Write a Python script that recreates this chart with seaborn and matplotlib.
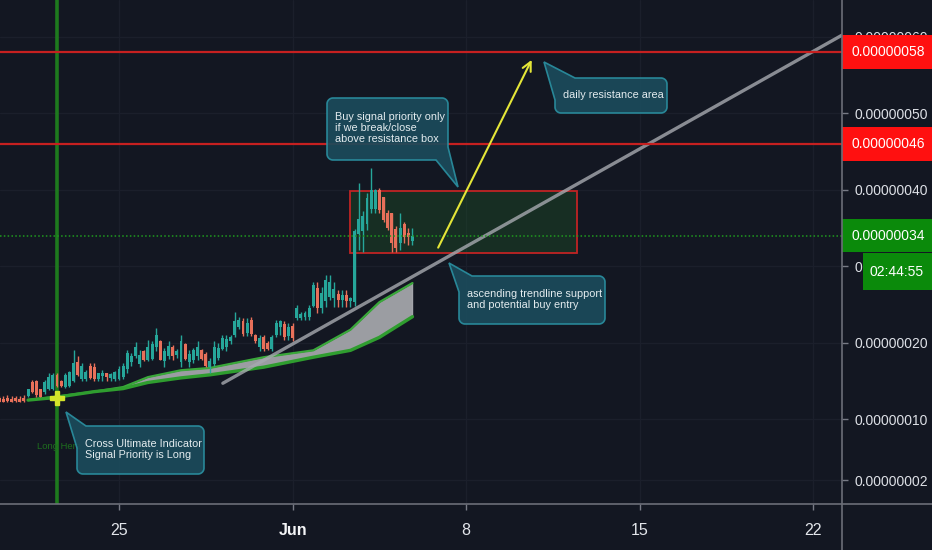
import numpy as np
import pandas as pd
import seaborn as sns
import matplotlib.pyplot as plt
import matplotlib.dates as mdates
import matplotlib.transforms as mtrans
from matplotlib.patches import Polygon, Rectangle
from matplotlib.lines import Line2D

# 4h candles, prices in units of 1e-8
candle_start = '2020-05-20 04:00'
opens = [12.8, 12.7, 12.8, 12.7, 12.8, 12.7, 12.8, 13.0, 14.8, 15.0,
         13.9, 13.5, 14.0, 14.0, 15.8, 15.0, 14.2, 14.3, 15.0, 17.5,
         15.2, 15.2, 17.0, 16.8, 15.2, 15.6, 16.0, 15.4, 15.3, 15.3,
         15.5, 16.5, 17.5, 18.2, 17.2, 18.9, 17.8, 17.9, 19.4, 20.2,
         17.6, 18.2, 19.5, 18.4, 17.5, 19.8, 17.5, 17.8, 18.2, 19.0,
         18.5, 16.8, 17.2, 18.0, 19.2, 19.5, 20.2, 21.0, 22.0, 22.8,
         21.3, 23.0, 21.0, 19.5, 20.8, 20.0, 19.2, 21.0, 22.0, 22.4,
         20.9, 22.2, 23.2, 23.2, 23.3, 23.3, 24.8, 27.2, 24.5, 25.5,
         26.0, 25.8, 26.4, 25.6, 26.2, 25.5, 25.3, 34.2, 34.6, 35.5,
         37.5, 37.5, 40.0, 39.0, 37.0, 37.0, 34.8, 33.0, 35.5, 34.3,
         33.3]
highs = [13.0, 13.0, 13.1, 13.0, 13.0, 13.0, 13.1, 14.0, 15.1, 15.1,
         14.0, 15.1, 16.0, 16.0, 16.0, 15.1, 16.0, 16.3, 19.0, 18.2,
         17.3, 16.4, 17.3, 17.3, 16.1, 16.4, 16.1, 16.0, 16.3, 17.0,
         17.3, 19.0, 18.7, 20.1, 19.0, 19.0, 20.4, 20.2, 21.9, 20.3,
         19.3, 20.2, 19.7, 19.2, 21.0, 20.0, 19.0, 19.3, 20.2, 19.2,
         18.8, 18.0, 20.2, 20.0, 21.0, 21.0, 21.0, 24.0, 23.4, 23.2,
         23.2, 23.4, 21.2, 21.0, 21.0, 20.2, 21.0, 23.0, 23.0, 22.8,
         22.6, 22.6, 24.9, 24.0, 24.1, 24.9, 28.0, 27.9, 27.3, 28.9,
         28.9, 28.0, 26.9, 26.9, 26.9, 26.0, 34.8, 40.9, 37.2, 39.6,
         42.8, 40.1, 40.2, 39.1, 37.3, 37.0, 35.3, 37.0, 35.8, 35.0,
         35.0]
lows = [12.2, 12.2, 12.2, 12.3, 12.2, 12.2, 12.3, 12.9, 13.4, 12.9,
        12.9, 13.3, 13.8, 13.8, 14.2, 14.2, 14.1, 14.2, 14.9, 15.6,
        15.0, 15.0, 15.2, 15.0, 15.0, 15.0, 15.0, 15.0, 15.0, 15.1,
        15.3, 16.0, 16.9, 18.0, 16.8, 17.6, 17.6, 17.7, 18.9, 17.7,
        16.8, 17.9, 17.7, 18.0, 16.8, 17.7, 16.8, 17.3, 17.7, 17.7,
        16.8, 16.0, 17.0, 17.7, 19.0, 18.9, 19.8, 20.8, 21.8, 20.9,
        20.9, 20.9, 20.0, 18.9, 18.9, 19.0, 18.9, 20.8, 21.0, 20.3,
        20.3, 20.2, 23.0, 23.0, 23.0, 23.0, 24.7, 23.9, 23.9, 24.7,
        25.6, 24.7, 24.7, 24.7, 24.7, 24.7, 24.8, 32.1, 31.9, 34.7,
        37.0, 37.0, 37.0, 35.8, 34.7, 31.9, 31.9, 32.1, 33.0, 32.8,
        32.8]
closes = [12.3, 12.3, 12.4, 12.3, 12.4, 12.3, 12.4, 13.9, 13.6, 13.2,
          12.9, 14.8, 15.5, 15.8, 14.3, 14.3, 15.8, 16.2, 17.4, 15.8,
          17.0, 16.2, 15.4, 15.2, 16.0, 16.0, 15.5, 15.9, 16.2, 16.5,
          17.0, 18.6, 18.3, 19.5, 18.4, 17.8, 19.5, 19.8, 21.0, 17.8,
          18.9, 19.6, 18.3, 18.9, 20.2, 17.9, 18.5, 19.0, 19.5, 17.9,
          16.9, 17.6, 19.5, 19.3, 20.6, 20.5, 20.8, 22.8, 23.0, 21.2,
          22.6, 21.2, 20.2, 20.6, 19.2, 19.2, 20.8, 22.6, 22.8, 20.8,
          22.0, 20.6, 24.5, 23.8, 23.9, 24.6, 27.5, 24.5, 26.5, 28.2,
          28.0, 27.0, 25.6, 26.3, 25.5, 25.9, 34.6, 36.2, 36.5, 38.9,
          40.0, 40.0, 37.3, 36.0, 35.0, 33.0, 32.4, 35.0, 33.8, 33.8,
          34.0]

# moving average cloud, read at candle indices
cloud_idx = [7, 13, 23, 30, 36, 44, 51, 64, 76, 85, 92, 100]
cloud_low = [12.5, 12.8, 13.6, 14.0, 14.8, 15.4, 15.8, 16.8, 18.1, 19.0, 20.7, 23.4]
cloud_high = [12.5, 12.9, 13.6, 14.2, 15.5, 16.4, 16.7, 18.1, 19.0, 21.7, 25.3, 27.8]

trend_dates = ['2020-05-29 04:30', '2020-06-23 03:40']
trend_vals = [14.7, 60.2]
arrow_dates = ['2020-06-06 19:40', '2020-06-10 16:35']
arrow_vals = [32.1, 57.3]
box_dates = ['2020-06-03 07:30', '2020-06-12 11:15']
box_vals = [31.7, 39.8]
resistance = [58, 46]
last_price = 34
signal_date = '2020-05-22 12:00'
signal_val = 12.8

ytick_vals = [60, 50, 40, 30, 20, 10, 2]
xtick_dates = ['2020-05-25', '2020-06-01', '2020-06-08', '2020-06-15', '2020-06-22']
xtick_labels = ['25', 'Jun', '8', '15', '22']

BG = '#131722'
UP = '#26a69a'
DOWN = '#e8705a'
BOX_FC = '#1b4b5b'
BOX_EC = '#2a8fa0'

sns.set_theme(style='dark', rc={'axes.facecolor': BG, 'figure.facecolor': BG})
plt.rcParams['font.family'] = ['Liberation Sans', 'DejaVu Sans']

fig = plt.figure(figsize=(9.32, 5.5), dpi=100)
ax = fig.add_axes([0, 46 / 550, 842 / 932, 504 / 550])
W, H = 842, 504

t = mdates.date2num(pd.date_range(candle_start, periods=len(opens), freq='4h'))
o = np.array(opens)
c = np.array(closes)
up = c >= o
cols = np.where(up, UP, DOWN)

# reference lines
for r in resistance:
    ax.axhline(r, color='#c62020', lw=1.6, zorder=4)
ax.axhline(last_price, color='#1f9a1f', lw=1.1, ls=(0, (1, 1.5)), zorder=4)
sig_t = mdates.date2num(pd.Timestamp(signal_date))
ax.axvline(sig_t, color='#1e7a1e', lw=2.6, zorder=1.5)

# resistance box
bt = mdates.date2num(pd.to_datetime(box_dates))
ax.add_patch(Rectangle((bt[0], box_vals[0]), bt[1] - bt[0], box_vals[1] - box_vals[0],
                       fc=(0.12, 0.35, 0.15, 0.35), ec='#c02424', lw=1.3, zorder=2))

# cloud
ct = t[cloud_idx]
ax.fill_between(ct, cloud_low, cloud_high, color='#a3a5aa', alpha=0.95, lw=0, zorder=2.2)
ax.plot([ct[-1], ct[-1]], [cloud_low[-1], cloud_high[-1]], color='#a3a5aa', lw=1, zorder=2.2)
sns.lineplot(x=ct, y=cloud_high, ax=ax, color='#3aa83a', lw=1.6, zorder=2.4)
sns.lineplot(x=ct, y=cloud_low, ax=ax, color='#2f9d2f', lw=2.4, zorder=2.4)

# candles
ax.vlines(t, lows, highs, colors=cols, lw=1, zorder=3)
body_lo = np.minimum(o, c)
body_h = np.maximum(np.abs(c - o), 0.2)
ax.bar(t, body_h, bottom=body_lo, width=0.12, color=cols, lw=0, zorder=3.1)

# trendline and arrow
tt = mdates.date2num(pd.to_datetime(trend_dates))
sns.lineplot(x=tt, y=trend_vals, ax=ax, color='#a7aab0', lw=2.4, alpha=0.8, zorder=3.5)
at = mdates.date2num(pd.to_datetime(arrow_dates))
ax.annotate('', xy=(at[1], arrow_vals[1]), xytext=(at[0], arrow_vals[0]),
            arrowprops=dict(arrowstyle='->', color='#e4e638', lw=1.5, mutation_scale=16),
            zorder=5)

ax.plot([sig_t], [signal_val], marker='P', ms=10, color='#d4e42a', mec='#d4e42a', zorder=6)
ax.text(sig_t - 0.8, 6.4, 'Long Here', color='#1e6e1e', fontsize=6.8, va='center', zorder=4)


def rounded_rect(x0, y0, x1, y1, r=6, step=0.5):
    pts = []

    def seg(a, b):
        n = max(int(np.hypot(b[0] - a[0], b[1] - a[1]) / step), 2)
        for s in np.linspace(0, 1, n, endpoint=False):
            pts.append((a[0] + (b[0] - a[0]) * s, a[1] + (b[1] - a[1]) * s))

    def arc(cx, cy, a0, a1):
        for a in np.linspace(a0, a1, 12, endpoint=False):
            pts.append((cx + r * np.cos(a), cy + r * np.sin(a)))

    seg((x0 + r, y0), (x1 - r, y0))
    arc(x1 - r, y0 + r, -np.pi / 2, 0)
    seg((x1, y0 + r), (x1, y1 - r))
    arc(x1 - r, y1 - r, 0, np.pi / 2)
    seg((x1 - r, y1), (x0 + r, y1))
    arc(x0 + r, y1 - r, np.pi / 2, np.pi)
    seg((x0, y1 - r), (x0, y0 + r))
    arc(x0 + r, y0 + r, np.pi, 1.5 * np.pi)
    return np.array(pts)


def callout(box, tip, base_a, base_b, text, tx, ty):
    P = rounded_rect(*box)
    n = len(P)
    ia = int(np.argmin(np.hypot(P[:, 0] - base_a[0], P[:, 1] - base_a[1])))
    ib = int(np.argmin(np.hypot(P[:, 0] - base_b[0], P[:, 1] - base_b[1])))
    if (ib - ia) % n <= n / 2:
        keep = [(ib + k) % n for k in range((ia - ib) % n + 1)]
    else:
        keep = [(ia + k) % n for k in range((ib - ia) % n + 1)]
    verts = [tuple(P[k]) for k in keep] + [tip]
    verts = [(x / W, 1 - y / H) for x, y in verts]
    ax.add_patch(Polygon(verts, closed=True, transform=ax.transAxes, fc=BOX_FC, ec=BOX_EC,
                         lw=1.2, alpha=0.92, zorder=6, clip_on=False))
    ax.text(tx / W, 1 - ty / H, text, transform=ax.transAxes, color='#e4ecef', fontsize=7.8,
            va='center', ha='left', linespacing=1.1, zorder=7)


callout((327, 98, 448, 160), (458, 187), (436, 160), (448, 147),
        'Buy signal priority only\nif we break/close\nabove resistance box', 335, 128)
callout((555, 78, 667, 113), (544, 62), (575, 78), (555, 100),
        'daily resistance area', 563, 95)
callout((459, 276, 605, 324), (449, 263), (472, 276), (459, 292),
        'ascending trendline support\nand potential buy entry', 467, 299.5)
callout((77, 426, 204, 474), (66, 412), (86, 426), (77, 448),
        'Cross Ultimate Indicator\nSignal Priority is Long', 85, 449.5)

# axes limits and ticks
x_left = mdates.date2num(pd.Timestamp('2020-05-25')) - 119 / 24.8
x_right = mdates.date2num(pd.Timestamp('2020-05-25')) + (842 - 119) / 24.8
ax.set_xlim(x_left, x_right)
ax.set_ylim(58 - (504 - 52) / 7.65, 58 + 52 / 7.65)

ax.yaxis.tick_right()
ax.set_yticks(ytick_vals)
ax.set_yticklabels([f'{v * 1e-8:.8f}' for v in ytick_vals])
ax.set_xticks(mdates.date2num(pd.to_datetime(xtick_dates)))
ax.set_xticklabels(xtick_labels)
ax.tick_params(axis='y', colors='#787b86', labelcolor='#dde0e6', labelsize=10,
               length=4, width=1, pad=5, right=True, left=False)
ax.tick_params(axis='x', colors='#787b86', labelcolor='#e2e5ea', labelsize=11.5,
               length=4, width=1, pad=10, bottom=True)
for lab in ax.get_xticklabels():
    if lab.get_text() == 'Jun':
        lab.set_fontweight('bold')
        lab.set_color('#f4f5f7')
ax.grid(True, color='#1b1f2b', lw=0.9)
for s in ax.spines.values():
    s.set_visible(False)
fig.add_artist(Line2D([0, 1], [46 / 550, 46 / 550], transform=fig.transFigure, color='#6b6e78', lw=1.2))
fig.add_artist(Line2D([842 / 932, 842 / 932], [0, 1], transform=fig.transFigure, color='#6b6e78', lw=1.2))

# price labels on the scale
trans = mtrans.blended_transform_factory(ax.transAxes, ax.transData)
for v, fc in [(resistance[0], '#ff1010'), (resistance[1], '#ff1010'), (last_price, '#0b8a0b')]:
    ax.add_patch(Rectangle((1.0, v - 2.2), 0.11, 4.4, transform=trans, fc=fc, lw=0,
                           clip_on=False, zorder=8))
    ax.text(852 / W, v, f'{v * 1e-8:.8f}', transform=trans, color='white', fontsize=10,
            va='center', ha='left', zorder=9, clip_on=False)
ax.add_patch(Rectangle((863 / W, 26.9), 0.09, 4.8, transform=trans, fc='#0b8a0b', lw=0,
                       clip_on=False, zorder=8))
ax.text(897 / W, 29.3, '02:44:55', transform=trans, color='white', fontsize=10,
        va='center', ha='center', zorder=9, clip_on=False)

fig.savefig('out.png', dpi=100, facecolor=BG)
